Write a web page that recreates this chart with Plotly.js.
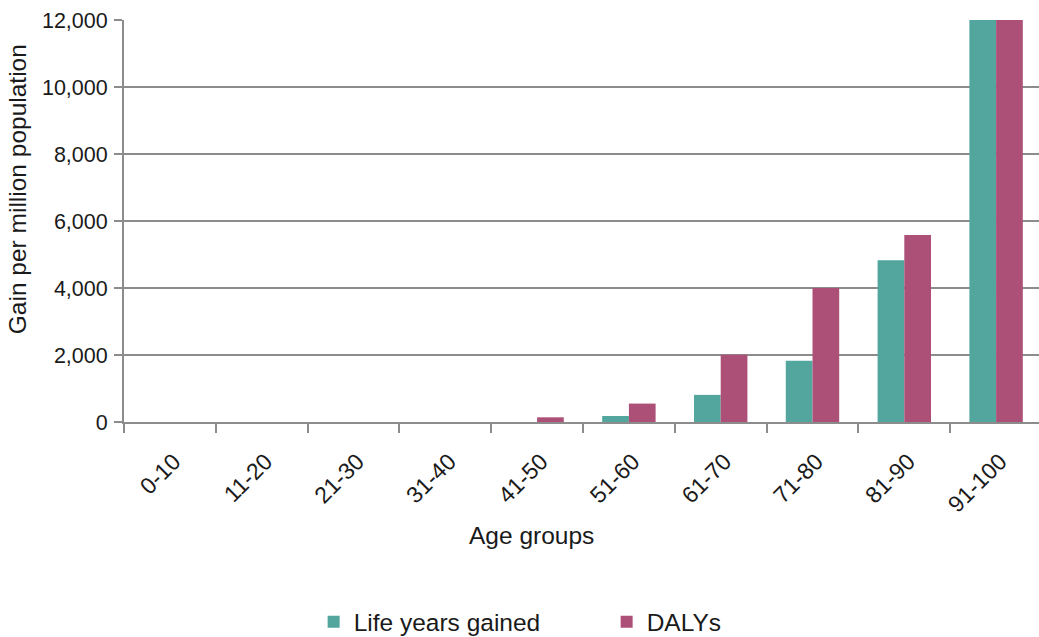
<!DOCTYPE html>
<html>
<head>
<meta charset="utf-8">
<script src="https://cdn.plot.ly/plotly-3.0.1.min.js"></script>
<style>html,body{margin:0;padding:0;background:#fff;overflow:hidden;}#chart{width:1042px;height:637px;}</style>
</head>
<body>
<div id="chart"></div>
<script>
const categories = ["0-10","11-20","21-30","31-40","41-50","51-60","61-70","71-80","81-90","91-100"];
const lifeYearsGained = [0, 0, 0, 0, 0, 180, 810, 1830, 4830, 12500];
const dalys = [0, 0, 0, 0, 140, 550, 2010, 4000, 5580, 12500];
const seriesNames = ["Life years gained", "DALYs"];
const yTicks = [0, 2000, 4000, 6000, 8000, 10000, 12000];
const xTitle = "Age groups";
const yTitle = "Gain per million population";

const font = "Liberation Sans, Arial, sans-serif";
const gridCol = "#8c8c8c";
const textCol = "#1a1a1a";

const traces = [
  {type: "bar", x: categories, y: lifeYearsGained, name: seriesNames[0],
   marker: {color: "#52a69e"}},
  {type: "bar", x: categories, y: dalys, name: seriesNames[1],
   marker: {color: "#ad5078"}}
];

const layout = {
  width: 1042, height: 637,
  margin: {l: 124, r: 0, t: 20, b: 215, autoexpand: false},
  paper_bgcolor: "#fff", plot_bgcolor: "#fff",
  font: {family: font, size: 22, color: textCol},
  barmode: "group", bargap: 0.418, bargroupgap: 0,
  showlegend: true,
  legend: {orientation: "h", xref: "container", yref: "container",
           x: 0.301, xanchor: "left", y: 0.024, yanchor: "middle",
           font: {size: 24.5}, itemwidth: 30, entrywidth: 248, traceorder: "normal"},
  xaxis: {
    type: "category", tickson: "boundaries", ticks: "outside", ticklen: 9, tickwidth: 2, tickcolor: gridCol,
    showline: true, linecolor: gridCol, linewidth: 2, showgrid: false,
    tickangle: -45, tickfont: {size: 23}, ticklabelstandoff: 15, ticklabelshift: 4,
    automargin: false
  },
  yaxis: {
    range: [0, 12000], tickvals: yTicks, tickformat: ",", ticks: "outside", ticklen: 8, tickwidth: 2, tickcolor: gridCol,
    showline: true, linecolor: gridCol, linewidth: 2, showgrid: true, gridcolor: gridCol, gridwidth: 2,
    zeroline: false, tickfont: {size: 21.5}, ticklabelstandoff: 2, automargin: false
  },
  annotations: [
    {text: xTitle, xref: "paper", yref: "paper", x: 0.444, y: -0.282, xanchor: "center", yanchor: "middle",
     showarrow: false, font: {size: 24.5, color: textCol}},
    {text: yTitle, xref: "paper", yref: "paper", x: -0.1159, y: 0.578, xanchor: "center", yanchor: "middle",
     textangle: -90, showarrow: false, font: {size: 24.5, color: textCol}}
  ]
};

Plotly.newPlot("chart", traces, layout, {displayModeBar: false, staticPlot: true});
</script>
</body>
</html>
